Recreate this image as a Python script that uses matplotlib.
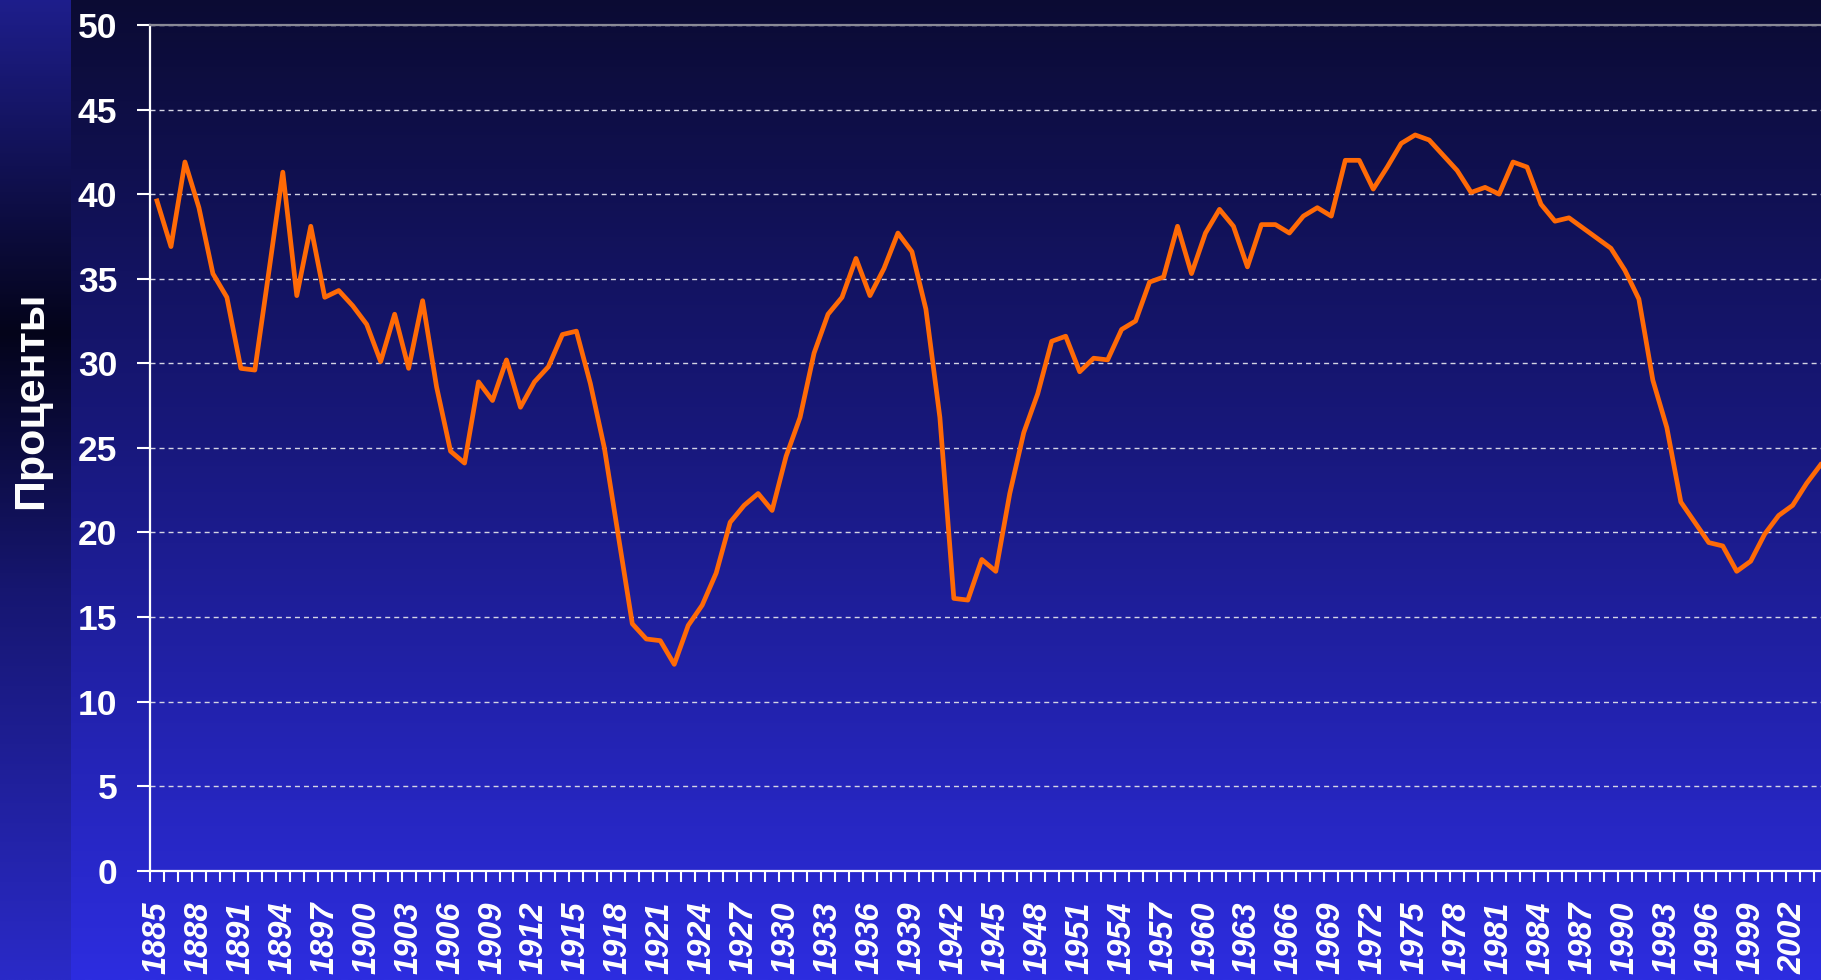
import numpy as np
import matplotlib
matplotlib.use("Agg")
import matplotlib.pyplot as plt
from matplotlib.colors import to_rgb

years = list(range(1885, 2005))
share = [39.6, 36.9, 41.9, 39.2, 35.3, 33.9, 29.7, 29.6, 35.4, 41.3,
         34.0, 38.1, 33.9, 34.3, 33.4, 32.3, 30.1, 32.9, 29.7, 33.7,
         28.6, 24.8, 24.1, 28.9, 27.8, 30.2, 27.4, 28.9, 29.8, 31.7,
         31.9, 28.8, 25.0, 19.8, 14.6, 13.7, 13.6, 12.2, 14.5, 15.7,
         17.6, 20.6, 21.6, 22.3, 21.3, 24.5, 26.8, 30.6, 32.9, 33.9,
         36.2, 34.0, 35.6, 37.7, 36.6, 33.2, 26.8, 16.1, 16.0, 18.4,
         17.7, 22.3, 25.9, 28.2, 31.3, 31.6, 29.5, 30.3, 30.2, 32.0,
         32.5, 34.8, 35.1, 38.1, 35.3, 37.7, 39.1, 38.1, 35.7, 38.2,
         38.2, 37.7, 38.7, 39.2, 38.7, 42.0, 42.0, 40.3, 41.6, 43.0,
         43.5, 43.2, 42.3, 41.4, 40.1, 40.4, 40.0, 41.9, 41.6, 39.4,
         38.4, 38.6, 38.0, 37.4, 36.8, 35.5, 33.8, 29.0, 26.2, 21.8,
         20.6, 19.4, 19.2, 17.7, 18.3, 19.9, 21.0, 21.6, 22.9, 24.0]
label_years = list(range(1885, 2003, 3))
y_ticks = list(range(0, 51, 5))
y_title = "Проценты"

W, H = 1821, 980
fig = plt.figure(figsize=(W / 100, H / 100), dpi=100)

# background: vertical gradient plus darker strip on the left
def gradient(stops, n):
    pos = [p for p, c in stops]
    cols = np.array([to_rgb(c) for p, c in stops])
    t = np.linspace(0, 1, n)
    return np.stack([np.interp(t, pos, cols[:, i]) for i in range(3)], axis=1)

bg = fig.add_axes([0, 0, 1, 1], zorder=-10)
main = gradient([(0, "#0b0b33"), (0.45, "#18187c"), (1, "#2d2de0")], H)
strip = gradient([(0, "#1e1e8c"), (0.34, "#04041a"), (0.6, "#161670"), (1, "#2a2ac8")], H)
bg.imshow(main[:, None, :], extent=(0, W, H, 0), aspect="auto")
bg.imshow(strip[:, None, :], extent=(0, 71, H, 0), aspect="auto")
bg.set_xlim(0, W)
bg.set_ylim(H, 0)
bg.axis("off")

# plot area (right side runs past the figure edge, as in the original)
x0, y0 = 150, 870.7
px_year = 13.98
xmin, xmax = 1884.5, 2005.5
ax = fig.add_axes([x0 / W, 1 - y0 / H, (xmax - xmin) * px_year / W, (y0 - 25) / H])
ax.set_facecolor("none")

ax.plot(years, share, color="#ff6a06", lw=3.4, solid_joinstyle="round")

ax.set_xlim(xmin, xmax)
ax.set_ylim(0, 50)
ax.set_yticks(y_ticks)
ax.set_xticks(np.arange(xmin, xmax + 0.1, 1))
ax.set_xticklabels([])
ax.set_xticks(label_years, minor=True)
ax.set_xticklabels([str(y) for y in label_years], minor=True, rotation=90,
                   fontfamily="Liberation Sans", fontweight="bold",
                   fontstyle="italic", fontsize=23.5, color="white")
for t in ax.get_yticklabels():
    t.set_fontfamily("Liberation Sans")
    t.set_fontweight("bold")
    t.set_fontsize(25.5)
    t.set_color("white")

ax.tick_params(axis="x", which="major", length=8, width=1.5, color="white")
ax.tick_params(axis="x", which="minor", length=0, pad=22)
ax.tick_params(axis="y", length=9.5, width=1.5, color="white", pad=14)

ax.yaxis.grid(True, color="#d4d4e4", lw=1.0, linestyle=(0, (3.6, 2.9)))
ax.set_axisbelow(True)
for s in ["left", "bottom"]:
    ax.spines[s].set_color("white")
    ax.spines[s].set_linewidth(1.6)
ax.spines["top"].set_color("#8a8a96")
ax.spines["top"].set_linewidth(1.6)
ax.spines["right"].set_visible(False)

fig.text(31 / W, 1 - 400 / H, y_title, rotation=90, ha="center", va="center",
         fontfamily="Liberation Sans", fontweight="bold", fontsize=31, color="white")

fig.savefig("out.png", dpi=100)
